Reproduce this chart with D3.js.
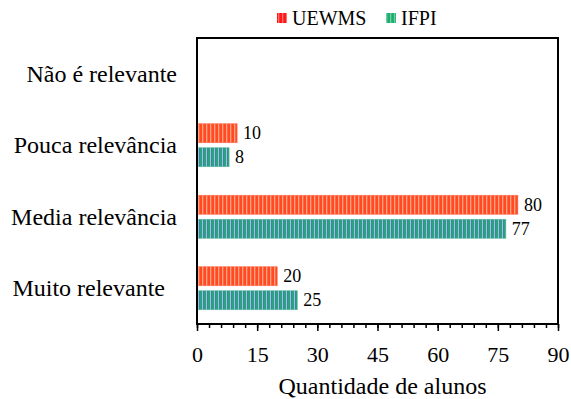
<!DOCTYPE html>
<html><head><meta charset="utf-8">
<script src="https://cdn.jsdelivr.net/npm/d3@7"></script>
<style>
body{margin:0;background:#fff;}
svg text{font-family:"Liberation Serif","Tinos","Times New Roman","DejaVu Serif",serif !important;}
</style></head>
<body><svg id="c" width="571" height="399"></svg>
<script>
const categories = ["Não é relevante", "Pouca relevância", "Media relevância", "Muito relevante"];
const seriesNames = ["UEWMS", "IFPI"];
const uewms = [null, 10, 80, 20];
const ifpi = [null, 8, 77, 25];
const majorTicks = [0, 15, 30, 45, 60, 75, 90];
const minorTicks = d3.range(0, 91, 3);
const axisTitle = "Quantidade de alunos";

const svg = d3.select("#c");
const m = {l:197, r:558, t:38, b:324};
const x = d3.scaleLinear().domain([0, 90]).range([m.l, m.r]);
const y = d3.scaleBand().domain(categories).range([m.t, m.b]).padding(0);
const barH = 19, gap = 5;

const defs = svg.append("defs");
function stripe(id, a, b, light){
  const p = defs.append("pattern").attr("id", id).attr("patternUnits","userSpaceOnUse")
    .attr("width", 4).attr("height", 10);
  p.append("rect").attr("width",4).attr("height",10).attr("fill",a);
  p.append("rect").attr("x",2).attr("width",1).attr("height",10).attr("fill",light);
  p.append("rect").attr("x",3).attr("width",1).attr("height",10).attr("fill",b);
}
stripe("pr", "#ff4a24", "#ff6a3a", "#ffa088");
stripe("pg", "#2e9f82", "#3a84ae", "#90ccc4");
stripe("lr", "#ff1a1a", "#ff3030", "#ff7070");
stripe("lg", "#1fae6e", "#30b880", "#70d0a0");

const series = [
  {name: seriesNames[0], vals: uewms, fill: "url(#pr)", stroke:"#ff6a50", off: 0},
  {name: seriesNames[1], vals: ifpi, fill: "url(#pg)", stroke:"#5cb8a0", off: 1}
];
const gc = (y.bandwidth() - (2*barH + gap)) / 2;

series.forEach(s => {
  const data = categories.map((c,i)=>({c, v:s.vals[i]})).filter(d=>d.v!=null);
  svg.append("g").selectAll("rect").data(data).join("rect")
    .attr("x", x(0)).attr("width", d=>x(d.v)-x(0))
    .attr("y", d=>y(d.c)+gc+s.off*(barH+gap)).attr("height", barH)
    .attr("fill", s.fill).attr("stroke", s.stroke).attr("stroke-width", 0.6);
  svg.append("g").selectAll("text").data(data).join("text")
    .attr("x", d=>x(d.v)+6).attr("y", d=>y(d.c)+gc+s.off*(barH+gap)+barH/2+6)
    .attr("font-size", 18).text(d=>d.v);
});

// frame
svg.append("rect").attr("x", m.l).attr("y", m.t).attr("width", m.r-m.l).attr("height", m.b-m.t)
  .attr("fill","none").attr("stroke","#000").attr("stroke-width",2);

// ticks
svg.append("g").attr("transform",`translate(0,${m.b})`)
  .call(d3.axisBottom(x).tickValues(minorTicks).tickSize(4).tickFormat(""))
  .call(g=>g.select(".domain").remove())
  .call(g=>g.selectAll("line").attr("stroke","#000").attr("stroke-width",1.5));
const ax = svg.append("g").attr("transform",`translate(0,${m.b})`)
  .call(d3.axisBottom(x).tickValues(majorTicks).tickSize(7).tickPadding(15))
  .call(g=>g.select(".domain").remove());
ax.selectAll("line").attr("stroke","#000").attr("stroke-width",1.5);
ax.selectAll("text").attr("font-size",22).attr("fill","#000");

// category labels
svg.append("g").selectAll("text").data(categories).join("text")
  .attr("x", 177).attr("y", d=>y(d)+y.bandwidth()/2+8)
  .attr("text-anchor","end").attr("font-size",24)
  .text(d=> d==="Muito relevante" ? d+"\u00a0\u00a0" : d);

// axis title
svg.append("text").attr("x", (m.l+m.r)/2+5).attr("y", 394).attr("text-anchor","middle")
  .attr("font-size",24).text(axisTitle);

// legend
const leg = [{n:seriesNames[0], f:"url(#lr)", x:277},{n:seriesNames[1], f:"url(#lg)", x:386}];
const lg = svg.append("g").selectAll("g").data(leg).join("g");
lg.append("rect").attr("x",d=>d.x).attr("y",13).attr("width",10).attr("height",10).attr("fill",d=>d.f);
lg.append("text").attr("x",d=>d.x+15).attr("y",25).attr("font-size",20).text(d=>d.n);
</script></body></html>
